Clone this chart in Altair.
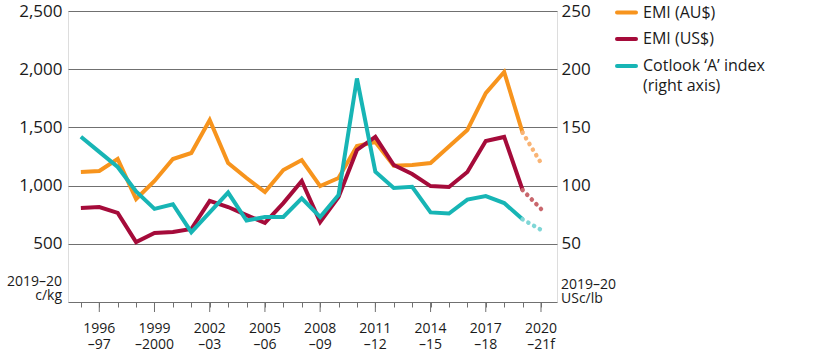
import altair as alt
import pandas as pd

# ---- data ----
years = list(range(1995, 2021))
emi_aud = [1117, 1125, 1228, 885, 1040, 1228, 1280, 1564, 1194, 1065, 945, 1134, 1220,
           996, 1065, 1340, 1375, 1170, 1177, 1194, 1335, 1478, 1795, 1976, 1455, 1194]
emi_usd = [808, 816, 765, 515, 593, 601, 627, 868, 816, 747, 679, 850, 1040,
           687, 902, 1306, 1418, 1177, 1100, 996, 988, 1117, 1383, 1418, 962, 799]
cotlook = [142, 129, 116, 95, 80, 84, 60, 77, 94, 70, 73, 73, 89,
           73, 92, 192, 112, 98, 99, 77, 76, 88, 91, 85, 71, 62]
forecast_start = 2019

label_years = [1996, 1999, 2002, 2005, 2008, 2011, 2014, 2017, 2020]
label_text = ["1996\n–97", "1999\n–2000", "2002\n–03", "2005\n–06", "2008\n–09",
              "2011\n–12", "2014\n–15", "2017\n–18", "2020\n–21f"]

left_ticks = [500, 1000, 1500, 2000, 2500]
right_ticks = [50, 100, 150, 200, 250]

series_names = ["EMI (AU$)", "EMI (US$)", "Cotlook ‘A’ index"]
colors = ["#F7941D", "#A50B3A", "#17B5B5"]
light_colors = ["#F9B475", "#C9676D", "#7FD6D6"]

FONT = "Open Sans"
W, H = 489, 291
TEXT = "#1a1a1a"
GRID = "#707070"


def seg_rows(name, vals):
    rows = []
    for y, v in zip(years, vals):
        if y <= forecast_start:
            rows.append({"year": y, "v": v, "key": name + " solid", "seg": "solid"})
        if y >= forecast_start:
            rows.append({"year": y, "v": v, "key": name + " fc", "seg": "fc"})
    return rows


left_df = pd.DataFrame(seg_rows(series_names[0], emi_aud) + seg_rows(series_names[1], emi_usd))
right_df = pd.DataFrame(seg_rows(series_names[2], cotlook))

color_domain = [n + " solid" for n in series_names] + [n + " fc" for n in series_names]
color_range = colors + light_colors
color_enc = alt.Color("key:N", scale=alt.Scale(domain=color_domain, range=color_range), legend=None)

x_axis = alt.Axis(values=years, labels=False, title=None, grid=False, ticks=True, tickSize=5,
                  tickColor=GRID, domainColor=GRID, tickWidth=1, domainWidth=1)
x_enc = alt.X("year:Q", scale=alt.Scale(domain=[1994.3, 2020.87], nice=False, zero=False), axis=x_axis)

left_axis = alt.Axis(values=left_ticks, labelExpr="format(datum.value, ',.0f')", title=None,
                     grid=True, gridColor=GRID, gridWidth=1, domain=False, ticks=False,
                     labelPadding=6, labelFontSize=17, labelFont=FONT, labelColor=TEXT)
right_axis = alt.Axis(values=right_ticks, orient="right", title=None, grid=False, domain=False,
                      ticks=False, labelPadding=4, labelFontSize=17, labelFont=FONT,
                      labelColor=TEXT)

y_left = alt.Y("v:Q", scale=alt.Scale(domain=[0, 2500], nice=False), axis=left_axis)
y_right = alt.Y("v:Q", scale=alt.Scale(domain=[0, 250], nice=False), axis=right_axis)

base_left = alt.Chart(left_df)
base_right = alt.Chart(right_df)

left_solid = base_left.transform_filter(alt.datum.seg == "solid").mark_line(
    strokeWidth=4, strokeJoin="miter").encode(x=x_enc, y=y_left, color=color_enc, detail="key:N")
left_fc = base_left.transform_filter(alt.datum.seg == "fc").mark_line(
    strokeWidth=4.5, strokeCap="round", strokeDash=[0.1, 6.5]).encode(
    x=x_enc, y=y_left, color=color_enc, detail="key:N")
right_solid = base_right.transform_filter(alt.datum.seg == "solid").mark_line(
    strokeWidth=4, strokeJoin="miter").encode(x=x_enc, y=y_right, color=color_enc)
right_fc = base_right.transform_filter(alt.datum.seg == "fc").mark_line(
    strokeWidth=4.5, strokeCap="round", strokeDash=[0.1, 6.5]).encode(
    x=x_enc, y=y_right, color=color_enc)

left_group = alt.layer(left_solid, left_fc)
right_group = alt.layer(right_solid, right_fc)

# major ticks and two-line year labels
lab_df = pd.DataFrame({"year": label_years, "label": label_text})
major_ticks = alt.Chart(lab_df).mark_rule(color=GRID, strokeWidth=1).encode(
    x=x_enc, y=alt.value(H), y2=alt.value(H + 10))
year_labels = alt.Chart(lab_df).mark_text(
    font=FONT, fontSize=14, baseline="top", align="center", lineBreak="\n",
    lineHeight=16, color=TEXT).encode(x=x_enc, y=alt.value(H + 20), text="label:N")

# unit labels
one = pd.DataFrame({"a": [0]})
unit_left = alt.Chart(one).mark_text(
    font=FONT, fontSize=14, align="right", baseline="alphabetic", lineBreak="\n",
    lineHeight=14, color=TEXT).encode(
    x=alt.value(-6), y=alt.value(275), text=alt.value("2019–20\nc/kg"))
unit_right = alt.Chart(one).mark_text(
    font=FONT, fontSize=14, align="left", baseline="alphabetic", lineBreak="\n",
    lineHeight=14, color=TEXT).encode(
    x=alt.value(W + 4), y=alt.value(278), text=alt.value("2019–20\nUSc/lb"))

# legend
legend_layers = []
leg_y = [1.5, 28, 55]
leg_labels = ["EMI (AU$)", "EMI (US$)", "Cotlook ‘A’ index\n(right axis)"]
for i in range(3):
    legend_layers.append(alt.Chart(one).mark_rule(
        color=colors[i], strokeWidth=4, strokeCap="round").encode(
        x=alt.value(549), x2=alt.value(568), y=alt.value(leg_y[i]), y2=alt.value(leg_y[i])))
    legend_layers.append(alt.Chart(one).mark_text(
        font=FONT, fontSize=16, align="left", baseline="middle", lineBreak="\n",
        lineHeight=20, color=TEXT).encode(
        x=alt.value(575), y=alt.value(leg_y[i]), text=alt.value(leg_labels[i])))

chart = alt.layer(
    left_group, right_group, major_ticks, year_labels, unit_left, unit_right, *legend_layers
).resolve_scale(y="independent").properties(
    width=W, height=H,
    padding={"left": 68, "top": 11, "right": 816 - 68 - W, "bottom": 357 - 11 - H},
    autosize=alt.AutoSizeParams(type="none"),
).configure_view(stroke=None).configure(background="white")

chart.save("out.html", embed_options={"renderer": "svg", "actions": False})
